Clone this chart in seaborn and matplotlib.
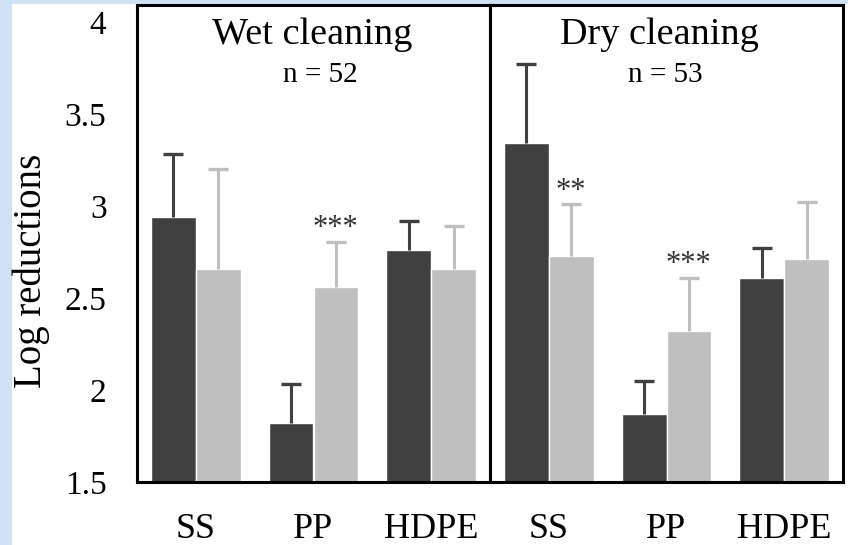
import matplotlib
matplotlib.use("Agg")
import matplotlib.pyplot as plt
import seaborn as sns
import pandas as pd
from matplotlib.patches import Rectangle
from matplotlib.ticker import FixedLocator, FixedFormatter
from matplotlib.container import BarContainer

# ---------------- data ----------------
surfaces = ["SS", "PP", "HDPE"]
panels = ["Wet cleaning", "Dry cleaning"]
n_labels = ["n = 52", "n = 53"]
series = ["Series 1", "Series 2"]

wet_s1 = [2.94, 1.82, 2.76]
wet_s1_err = [0.34, 0.21, 0.16]
wet_s2 = [2.66, 2.56, 2.66]
wet_s2_err = [0.54, 0.245, 0.23]

dry_s1 = [3.34, 1.87, 2.61]
dry_s1_err = [0.43, 0.18, 0.16]
dry_s2 = [2.73, 2.32, 2.71]
dry_s2_err = [0.28, 0.29, 0.31]

wet_sig_s2 = ["", "***", ""]
dry_sig_s2 = ["**", "***", ""]

yticks = [1.5, 2, 2.5, 3, 3.5, 4]
ytick_labels = ["1.5", "2", "2.5", "3", "3.5", "4"]
ylabel = "Log reductions"

# ---------------- table ----------------
rows = []
for panel, s1, e1, s2, e2, sig in [
    (panels[0], wet_s1, wet_s1_err, wet_s2, wet_s2_err, wet_sig_s2),
    (panels[1], dry_s1, dry_s1_err, dry_s2, dry_s2_err, dry_sig_s2),
]:
    for i, surf in enumerate(surfaces):
        rows.append(dict(panel=panel, surface=surf, series=series[0], value=s1[i], err=e1[i], sig=""))
        rows.append(dict(panel=panel, surface=surf, series=series[1], value=s2[i], err=e2[i], sig=sig[i]))
df = pd.DataFrame(rows)

# ---------------- style ----------------
sns.set_theme(style="white")
plt.rcParams["font.family"] = ["Liberation Serif", "DejaVu Serif"]

colors = ["#404040", "#bfbfbf"]

W, H = 848, 545
fig, axes = plt.subplots(1, 2, figsize=(W / 100, H / 100), dpi=100, sharey=True)
fig.patch.set_facecolor("white")
fig.subplots_adjust(left=137 / W, right=843 / W, bottom=63 / H, top=540 / H, wspace=0)

title_x = [0.496, 0.480]
n_x = [0.518, 0.496]

for k, (ax, panel) in enumerate(zip(axes, panels)):
    sub = df[df.panel == panel]
    sns.barplot(data=sub, x="surface", y="value", hue="series", order=surfaces,
                hue_order=series, palette=colors, saturation=1, width=0.76,
                errorbar=None, edgecolor="white", linewidth=1.0, legend=False, ax=ax)
    bar_conts = [c for c in ax.containers if isinstance(c, BarContainer)]
    # error bars (upper only) using bar positions from the library
    for si, cont in enumerate(bar_conts):
        ser = series[si]
        ssub = sub[sub.series == ser].set_index("surface").loc[surfaces]
        xs = [b.get_x() + b.get_width() / 2 for b in cont]
        vals = ssub["value"].tolist()
        errs = ssub["err"].tolist()
        eb = ax.errorbar(xs, vals, yerr=[[0] * len(errs), errs], fmt="none",
                         ecolor=colors[si], elinewidth=2.2, capsize=7, capthick=2.4, zorder=3)
        caps = eb.lines[1]
        if len(caps) >= 2:
            caps[0].set_visible(False)  # hide the lower cap
        for x, v, e, s in zip(xs, vals, errs, ssub["sig"].tolist()):
            if s:
                ax.text(x, v + e + 0.03, s, ha="center", va="baseline", fontsize=22,
                        color="#333333")
    ax.set_ylim(1.5, 4.092)
    ax.set_xlim(-0.5, 2.5)
    ax.set_xlabel("")
    ax.set_ylabel("")
    for sp in ax.spines.values():
        sp.set_visible(True)
        sp.set_color("black")
        sp.set_linewidth(2.2)
    ax.tick_params(axis="x", length=0, labelsize=26, pad=22, colors="black")
    ax.tick_params(axis="y", length=0, labelsize=24, pad=22, colors="black")
    ax.text(title_x[k], 0.918, panel, transform=ax.transAxes, ha="center",
            va="baseline", fontsize=27.5, color="black")
    ax.text(n_x[k], 0.838, n_labels[k], transform=ax.transAxes, ha="center",
            va="baseline", fontsize=21, color="black")

axes[0].yaxis.set_major_locator(FixedLocator(yticks))
axes[0].yaxis.set_major_formatter(FixedFormatter(ytick_labels))

fig.text(31 / W, 1 - 271 / H, ylabel, rotation=90, ha="center", va="center",
         fontsize=28, color="black")

# light-blue page margins
blue = "#cfe2f5"
fig.add_artist(Rectangle((0, 0), 12 / W, 1, transform=fig.transFigure,
                         color=blue, zorder=-5, lw=0))
fig.add_artist(Rectangle((0, 1 - 4 / H), 1, 4 / H, transform=fig.transFigure,
                         color=blue, zorder=-5, lw=0))

fig.savefig("out.png", dpi=100)
